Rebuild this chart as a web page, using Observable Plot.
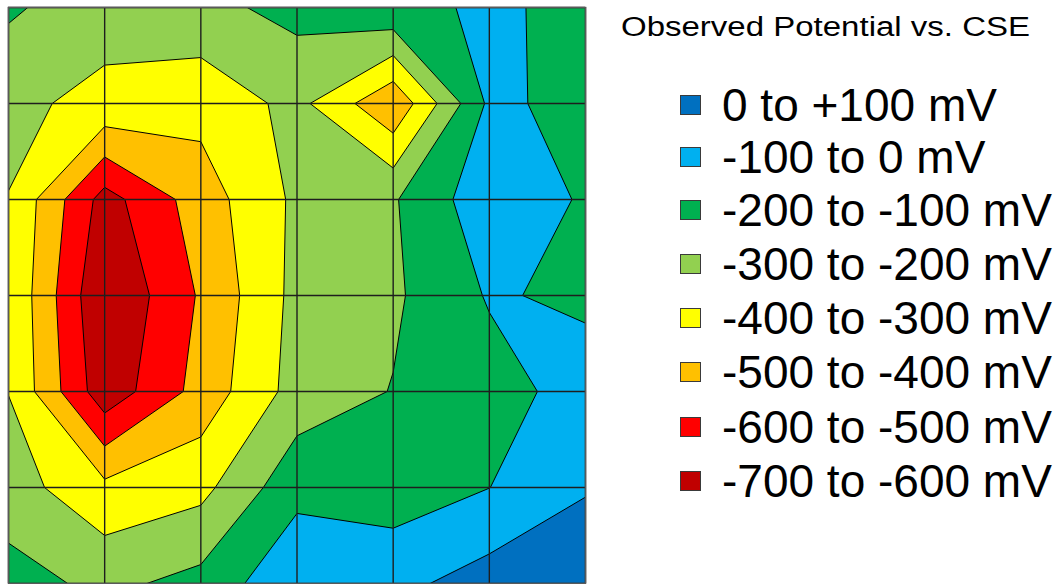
<!DOCTYPE html>
<html>
<head>
<meta charset="utf-8">
<script src="https://cdn.jsdelivr.net/npm/d3@7"></script>
<script src="https://cdn.jsdelivr.net/npm/@observablehq/plot@0.6"></script>
<style>
  html, body { margin: 0; padding: 0; background: #fff; }
  #figure {
    position: relative; width: 1059px; height: 584px; overflow: hidden;
    font-family: "Liberation Sans", Arial, sans-serif; color: #000;
  }
  #map { position: absolute; left: 0; top: 0; }
  .legend-title {
    position: absolute; left: 621px; top: 14px;
    font-size: 27px; line-height: 27px; white-space: nowrap;
    transform-origin: 0 50%;
  }
  .legend-item { position: absolute; left: 680px; width: 379px; height: 0; }
  .legend-item .swatch {
    position: absolute; left: 0; top: -10px; width: 21px; height: 20px;
    box-sizing: border-box; border: 1px solid #3a3a3a;
  }
  .legend-item .label {
    position: absolute; left: 42px; top: -23px;
    font-size: 46px; line-height: 46px; white-space: nowrap;
  }
</style>
</head>
<body>
<div id="figure">
  <div id="map"></div>
  <div id="legend"></div>
</div>
<script>
// Survey grid of potential readings (mV vs. CSE), 7 x 7 nodes, listed top row first.
const row0 = [-184, -264, -227, -171, -115,  -92, -113];
const row1 = [-280, -324, -367, -271, -485,  -80, -130];
const row2 = [-302, -640, -450, -280, -210,  -33, -111];
const row3 = [-305, -698, -488, -270, -216,  -91, -117];
const row4 = [-302, -665, -463, -260, -196, -142,  -58];
const row5 = [-255, -375, -330, -130, -153, -101,   -8];
const row6 = [-160, -225, -168,  -19,  -28,   45,   72];

// Node positions along each axis (grid line locations).
const gridStops = [0, 1, 2, 3, 4, 5, 6];

// Bands, most positive first: upper bound (mV), fill and legend text.
const bandTops   = [100, 0, -100, -200, -300, -400, -500, -600];
const bandColors = ["#0070C0", "#00B0F0", "#00B050", "#92D050", "#FFFF00", "#FFC000", "#FF0000", "#C00000"];
const bandLabels = [
  "0 to +100 mV", "-100 to 0 mV", "-200 to -100 mV", "-300 to -200 mV",
  "-400 to -300 mV", "-500 to -400 mV", "-600 to -500 mV", "-700 to -600 mV"
];
const legendTitle = "Observed Potential vs. CSE";

const potential = [row0, row1, row2, row3, row4, row5, row6].flat();
const n = gridStops.length;

// Contours are traced on the depth of the reading below zero (−mV), so each
// polygon covers "potential ≤ band top"; the bands stack from positive to
// most negative, and ambiguous cells keep the less negative band connected.
const depthThresholds = bandTops.map((t) => -t);

const chart = Plot.plot({
  width: 590,
  height: 584,
  marginLeft: 8,
  marginRight: 5,
  marginTop: 7,
  marginBottom: 1,
  x: { domain: [0, n - 1], axis: null },
  y: { domain: [0, n - 1], reverse: true, axis: null },
  color: { type: "ordinal", domain: depthThresholds, range: bandColors },
  marks: [
    Plot.contour(potential, {
      width: n,
      height: n,
      x1: -0.5, x2: n - 0.5,
      y1: -0.5, y2: n - 0.5,
      value: (d) => -d,
      fill: "value",
      thresholds: depthThresholds,
      stroke: "#000",
      strokeWidth: 1,
      strokeLinejoin: "round",
      clip: true
    }),
    Plot.ruleX(gridStops, { stroke: "#1e1e1e", strokeWidth: 1.4 }),
    Plot.ruleY(gridStops, { stroke: "#1e1e1e", strokeWidth: 1.4 }),
    Plot.frame({ stroke: "#5a5a5a", strokeWidth: 1.5 })
  ]
});
document.getElementById("map").append(chart);

// Legend
const legend = document.getElementById("legend");
const title = document.createElement("div");
title.className = "legend-title";
title.textContent = legendTitle;
legend.append(title);
// the title is set wide, spanning the legend column
const titleWidth = title.getBoundingClientRect().width;
title.style.transform = `scaleX(${409 / titleWidth})`;

const rowCenters = [105, 157, 210, 264, 318, 372, 427, 481];
bandLabels.forEach((label, i) => {
  const item = document.createElement("div");
  item.className = "legend-item";
  item.style.top = rowCenters[i] + "px";
  const sw = document.createElement("div");
  sw.className = "swatch";
  sw.style.background = bandColors[i];
  const tx = document.createElement("div");
  tx.className = "label";
  tx.textContent = label;
  item.append(sw, tx);
  legend.append(item);
});
</script>
</body>
</html>
